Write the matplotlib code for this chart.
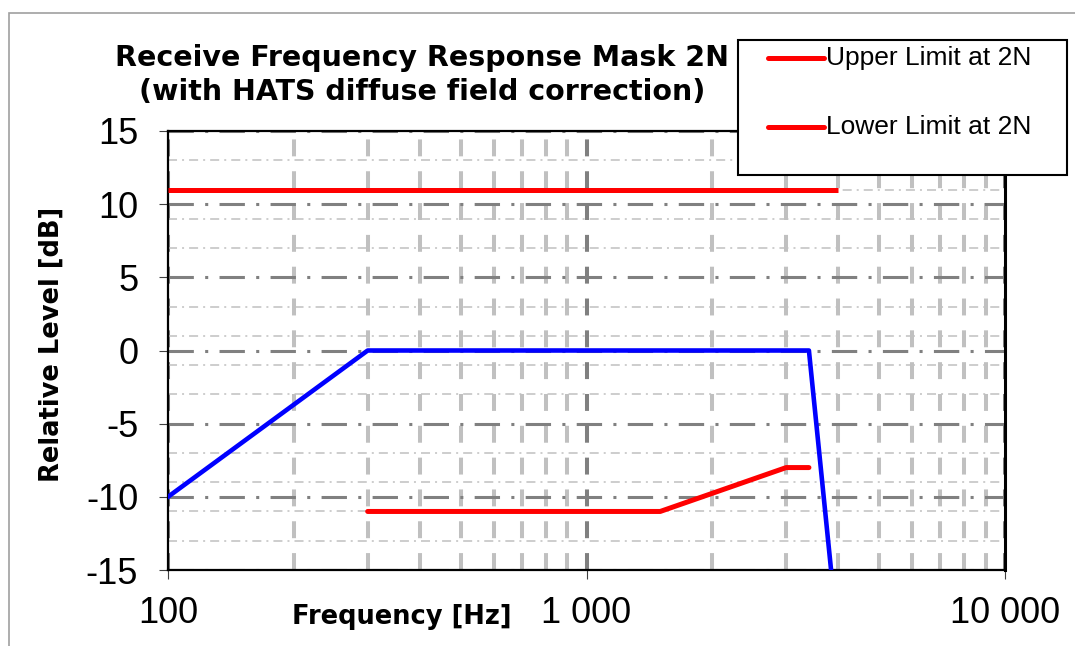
import matplotlib
matplotlib.use("Agg")
import matplotlib.pyplot as plt
import matplotlib.ticker as mticker
from matplotlib.patches import Rectangle
from matplotlib.lines import Line2D

# --- data ---
upper_freq = [100, 4000]
upper_level = [11, 11]
lower_freq = [300, 1500, 3000, 3400]
lower_level = [-11, -11, -8, -8]
mask_freq = [100, 300, 3400, 4000]
mask_level = [-10, 0, 0, -20]

x_ticks = [100, 1000, 10000]
x_ticklabels = ["100", "1 000", "10 000"]
y_ticks = [-15, -10, -5, 0, 5, 10, 15]
y_ticklabels = ["-15", "-10", "-5", "0", "5", "10", "15"]
y_minor = [v for v in range(-13, 15, 2) if v % 5 != 0]

legend_labels = ["Upper Limit at 2N", "Lower Limit at 2N"]

W, H = 1075, 646
fig = plt.figure(figsize=(W / 100, H / 100), dpi=100)


def fx(px):
    return px / W


def fy(py):
    return 1 - py / H


ax = fig.add_axes([fx(168), fy(570), fx(1005) - fx(168), fy(131) - fy(570)])

ax.plot(upper_freq, upper_level, color="#ff0000", lw=3.6, solid_capstyle="butt", zorder=5)
ax.plot(lower_freq, lower_level, color="#ff0000", lw=3.6, solid_capstyle="round", zorder=5)
ax.plot(mask_freq, mask_level, color="#0000ff", lw=3.3, zorder=5)

ax.set_xscale("log")
ax.set_xlim(100, 10000)
ax.set_ylim(-15, 15)

ax.xaxis.set_major_locator(mticker.FixedLocator(x_ticks))
ax.xaxis.set_major_formatter(mticker.FixedFormatter(x_ticklabels))
ax.xaxis.set_minor_locator(mticker.LogLocator(base=10, subs=range(2, 10)))
ax.xaxis.set_minor_formatter(mticker.NullFormatter())
ax.yaxis.set_major_locator(mticker.FixedLocator(y_ticks))
ax.yaxis.set_major_formatter(mticker.FixedFormatter(y_ticklabels))
ax.yaxis.set_minor_locator(mticker.FixedLocator(y_minor))

ax.tick_params(which="minor", length=0)
ax.tick_params(axis="y", which="major", length=6.5, width=0.8, color="#404040", pad=15,
               labelsize=26)
ax.tick_params(axis="x", which="major", length=6.5, width=0.8, color="#404040", pad=12,
               labelsize=26)
for lab in ax.get_xticklabels() + ax.get_yticklabels():
    lab.set_fontfamily("Liberation Sans")

# grid lines, Excel style
ax.grid(axis="x", which="minor", color="#c0c0c0", lw=2.9, linestyle=(0, (4.2, 3.7)))
ax.grid(axis="x", which="major", color="#808080", lw=2.9, linestyle=(0, (4.2, 3.7)))
ax.grid(axis="y", which="minor", color="#c0c0c0", lw=1.1, linestyle=(0, (5.9, 3.3, 1.3, 3.3)))
ax.grid(axis="y", which="major", color="#808080", lw=2.2, linestyle=(0, (8.3, 3.7, 1, 3.7)))
ax.set_axisbelow(True)

for side in ["left", "bottom", "top", "right"]:
    ax.spines[side].set_color("black")
    ax.spines[side].set_linewidth(1.6)
ax.spines["right"].set_linewidth(2.2)

# texts
bold = dict(fontfamily="DejaVu Sans", fontweight="bold")
fig.text(fx(422), fy(75), "Receive Frequency Response Mask 2N\n(with HATS diffuse field correction)",
         ha="center", va="center", fontsize=20.5, linespacing=1.3, **bold)
fig.text(fx(402), fy(617), "Frequency [Hz]", ha="center", va="center", fontsize=18.5, **bold)
fig.text(fx(52), fy(344), "Relative Level [dB]", ha="center", va="center", rotation=90,
         fontsize=18.5, **bold)

# legend box
fig.add_artist(Rectangle((fx(738), fy(175)), fx(1067) - fx(738), fy(40) - fy(175),
                         transform=fig.transFigure, facecolor="white", edgecolor="black",
                         lw=1.5, zorder=10))
for label, ypx in zip(legend_labels, [58, 127]):
    fig.add_artist(Line2D([fx(768), fx(824)], [fy(ypx), fy(ypx)], transform=fig.transFigure,
                          color="#ff0000", lw=3.6, solid_capstyle="round", zorder=11))
    fig.text(fx(826), fy(ypx), label, ha="left", va="center", fontsize=19,
             fontfamily="Liberation Sans", zorder=11)

# outer chart frame (left and top edges show)
fig.add_artist(Rectangle((fx(9), fy(H + 20)), fx(W + 20), fy(13) - fy(H + 20),
                         transform=fig.transFigure, facecolor="none", edgecolor="#a0a0a0",
                         lw=1.2, zorder=0))

fig.savefig("out.png", dpi=100)
